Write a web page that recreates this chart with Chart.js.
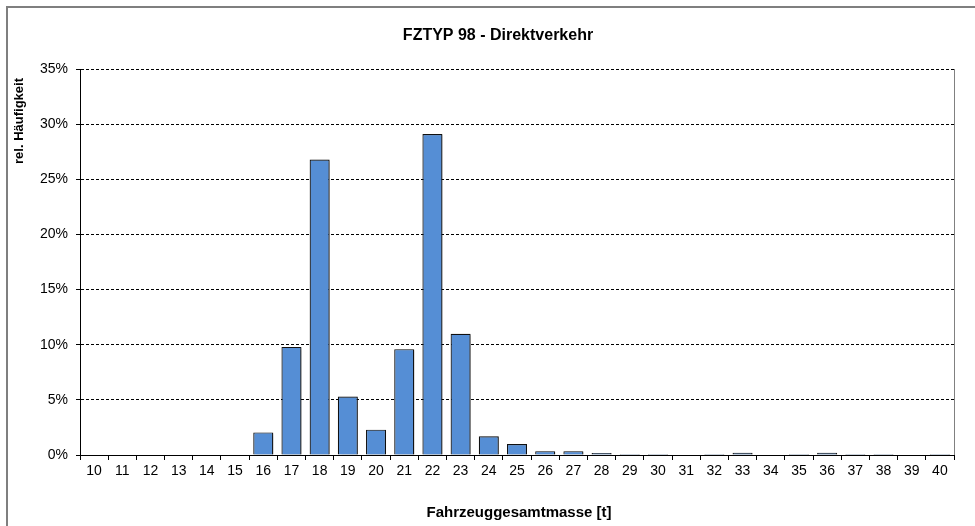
<!DOCTYPE html>
<html>
<head>
<meta charset="utf-8">
<script src="https://cdn.jsdelivr.net/npm/chart.js"></script>
<style>
  body { margin: 0; background: #fff; }
  #wrap { width: 975px; height: 526px; }
</style>
</head>
<body>
<div id="wrap"><canvas id="myChart" width="975" height="526"></canvas></div>
<script>
// Fahrzeuggesamtmasse classes in tonnes
const massClasses = ['10', '11', '12', '13', '14', '15', '16', '17', '18', '19', '20',
    '21', '22', '23', '24', '25', '26', '27', '28', '29', '30',
    '31', '32', '33', '34', '35', '36', '37', '38', '39', '40'];

// relative frequency in percent
const relFrequency = [0, 0, 0, 0, 0, 0, 2.05, 9.8, 26.8, 5.3, 2.3,
    9.6, 29.1, 11.0, 1.7, 1.0, 0.35, 0.35, 0.18, 0.1, 0.1,
    0, 0.1, 0.2, 0, 0.1, 0.2, 0.1, 0.1, 0, 0.1];

const yTicks = [0, 5, 10, 15, 20, 25, 30, 35];

const chartTitle = 'FZTYP 98 - Direktverkehr';
const xTitle = 'Fahrzeuggesamtmasse [t]';
const yTitle = 'rel. Häufigkeit';

const FONT = 'Arial, "Liberation Sans", sans-serif';

// frame, titles and the right border of the plot area
const decorations = {
    id: 'decorations',
    beforeDraw(chart) {
        const ctx = chart.ctx;
        ctx.save();
        ctx.fillStyle = '#fff';
        ctx.fillRect(0, 0, chart.width, chart.height);
        ctx.strokeStyle = '#7f7f7f';
        ctx.lineWidth = 2;
        ctx.beginPath();
        ctx.moveTo(7, chart.height + 2);
        ctx.lineTo(7, 7);
        ctx.lineTo(chart.width + 2, 7);
        ctx.stroke();
        ctx.restore();
    },
    beforeDatasetsDraw(chart) {
        // soft drop shadow behind the bars
        const ctx = chart.ctx;
        ctx.save();
        ctx.shadowColor = 'rgba(0, 0, 0, 0.35)';
        ctx.shadowOffsetX = 1.5;
        ctx.shadowOffsetY = 1;
        ctx.shadowBlur = 2;
    },
    afterDatasetsDraw(chart) {
        chart.ctx.restore();
    },
    afterDraw(chart) {
        const ctx = chart.ctx;
        const area = chart.chartArea;
        ctx.save();
        ctx.strokeStyle = '#808080';
        ctx.lineWidth = 1;
        ctx.beginPath();
        ctx.moveTo(Math.round(area.right) + 0.5, area.top);
        ctx.lineTo(Math.round(area.right) + 0.5, area.bottom);
        ctx.stroke();

        ctx.fillStyle = '#000';
        ctx.textAlign = 'center';
        ctx.textBaseline = 'middle';
        ctx.font = 'bold 16px ' + FONT;
        ctx.fillText(chartTitle, 498, 36);
        ctx.font = 'bold 15px ' + FONT;
        ctx.fillText(xTitle, 519, 513);
        ctx.font = 'bold 13px ' + FONT;
        ctx.translate(19, 121);
        ctx.rotate(-Math.PI / 2);
        ctx.fillText(yTitle, 0, 0);
        ctx.restore();
    }
};

const ctx = document.getElementById('myChart').getContext('2d');
const myChart = new Chart(ctx, {
    type: 'bar',
    data: {
        labels: massClasses,
        datasets: [{
            data: relFrequency,
            backgroundColor: '#558ED5',
            borderColor: '#111',
            borderWidth: 1.2,
            borderSkipped: 'bottom',
            categoryPercentage: 0.71,
            barPercentage: 1
        }]
    },
    options: {
        responsive: false,
        animation: false,
        layout: { padding: { left: 0, right: 21, top: 69, bottom: 0 } },
        plugins: {
            legend: { display: false },
            tooltip: { enabled: false }
        },
        scales: {
            x: {
                afterFit(scale) { scale.height = 71; },
                grid: {
                    drawOnChartArea: false,
                    drawTicks: true,
                    tickLength: 5,
                    color: '#000',
                    offset: true
                },
                border: { color: '#000', width: 1 },
                ticks: {
                    color: '#000',
                    font: { family: FONT, size: 14 },
                    padding: 3,
                    maxRotation: 0,
                    autoSkip: false
                }
            },
            y: {
                min: 0,
                max: 35,
                afterFit(scale) { scale.width = 80; },
                afterBuildTicks(scale) {
                    scale.ticks = yTicks.map(v => ({ value: v }));
                },
                grid: {
                    color: '#000',
                    lineWidth: 1,
                    tickLength: 4,
                    tickColor: '#000',
                    tickBorderDash: []
                },
                // in Chart.js v4 border.dash also dashes the grid lines
                border: { color: '#000', width: 1, dash: [3, 2] },
                ticks: {
                    color: '#000',
                    font: { family: FONT, size: 14 },
                    padding: 8,
                    callback: v => v + '%'
                }
            }
        }
    },
    plugins: [decorations]
});
</script>
</body>
</html>
